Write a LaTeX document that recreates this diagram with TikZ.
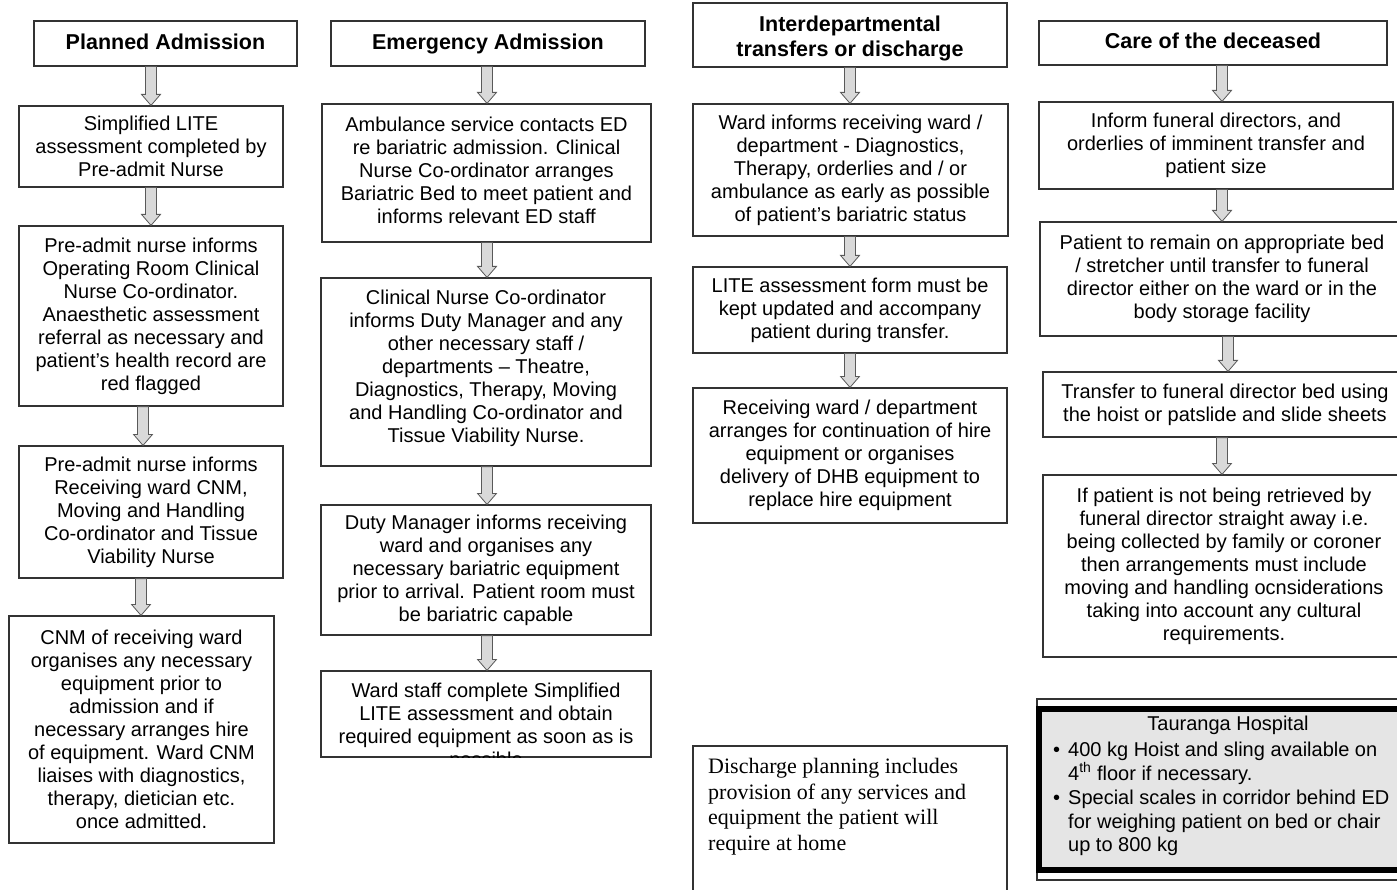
\documentclass[tikz,border=0pt]{standalone}
\usepackage{fontspec}
\setmainfont{Liberation Sans}
\newfontfamily\dserif{Liberation Serif}
\usetikzlibrary{calc}
\definecolor{arrowfill}{gray}{0.85}
\definecolor{arrowdraw}{gray}{0.35}
\definecolor{boxline}{gray}{0.2}
\definecolor{panelfill}{gray}{0.9}
\newcommand\bodyfont{\fontsize{20}{23}\selectfont}
\newcommand\headfont{\fontsize{21.5}{25}\selectfont\bfseries}
\newcommand\dischfont{\dserif\fontsize{22}{25.7}\selectfont}
\tikzset{
  flowbox/.style={draw=boxline, line width=1.2pt, fill=white, align=center, inner sep=0pt, font=\bodyfont},
  headbox/.style={flowbox, font=\headfont},
  fatarrowstyle/.style={fill=arrowfill, draw=arrowdraw, line width=0.8pt, line join=miter},
}
\newcommand\fatarrow[3]{%
  \path[fatarrowstyle] let \p1=(#2.south), \p2=(#3.north) in
   (#1pt-5.5pt,\y1) -- (#1pt-5.5pt,\y2+11pt) -- (#1pt-9.5pt,\y2+11pt) -- (#1pt,\y2)
   -- (#1pt+9.5pt,\y2+11pt) -- (#1pt+5.5pt,\y2+11pt) -- (#1pt+5.5pt,\y1) -- cycle;}
\begin{document}
\begin{tikzpicture}[x=1pt,y=-1pt]
\useasboundingbox[fill=white] (0,0) rectangle (1397,890);

% ---------- Column 1 ----------
\node[headbox, minimum width=263pt, minimum height=45pt] (pa) at (165.5,43.5) {Planned Admission\vphantom{gy}};
\node[flowbox, minimum width=264pt, minimum height=81pt] (c1a) at (151,146.5) {Simplified LITE\\assessment completed by\\Pre-admit Nurse};
\node[flowbox, minimum width=264pt, minimum height=180pt] (c1b) at (151,316) {Pre-admit nurse informs\\Operating Room Clinical\\Nurse Co-ordinator.\\Anaesthetic assessment\\referral as necessary and\\patient’s health record are\\red flagged};
\node[flowbox, minimum width=264pt, minimum height=132pt] (c1c) at (151,512) {Pre-admit nurse informs\\Receiving ward CNM,\\Moving and Handling\\Co-ordinator and Tissue\\Viability Nurse};
\node[flowbox, minimum width=265pt, minimum height=227pt] (c1d) at (141.5,729.5) {CNM of receiving ward\\organises any necessary\\equipment prior to\\admission and if\\necessary arranges hire\\of equipment. Ward CNM\\liaises with diagnostics,\\therapy, dietician etc.\\once admitted.};
\fatarrow{151}{pa}{c1a}
\fatarrow{151}{c1a}{c1b}
\fatarrow{143}{c1b}{c1c}
\fatarrow{141}{c1c}{c1d}

% ---------- Column 2 ----------
\node[headbox, minimum width=314pt, minimum height=45pt] (ea) at (488,43.5) {Emergency Admission};
\node[flowbox, minimum width=329pt, minimum height=138pt] (c2a) at (486.5,173) {};
\node[font=\bodyfont, align=center, inner sep=0pt] (c2atext) at (486.5,170) {Ambulance service contacts ED\\re bariatric admission. Clinical\\Nurse Co-ordinator arranges\\Bariatric Bed to meet patient and\\informs relevant ED staff};
\node[flowbox, minimum width=330pt, minimum height=188pt] (c2b) at (486,372) {};
\node[font=\bodyfont, align=center, inner sep=0pt] (c2btext) at (486,368) {Clinical Nurse Co-ordinator\\informs Duty Manager and any\\other necessary staff /\\departments – Theatre,\\Diagnostics, Therapy, Moving\\and Handling Co-ordinator and\\Tissue Viability Nurse.};
\node[flowbox, minimum width=330pt, minimum height=130pt] (c2c) at (486,570) {Duty Manager informs receiving\\ward and organises any\\necessary bariatric equipment\\prior to arrival. Patient room must\\be bariatric capable};
\node[flowbox, minimum width=330pt, minimum height=86pt] (c2d) at (486,714) {};
\begin{scope}
  \clip (c2d.south west) rectangle (c2d.north east);
  \node[anchor=north, align=center, inner sep=0pt, font=\bodyfont] (c2dtext) at (486,683) {Ward staff complete Simplified\\LITE assessment and obtain\\required equipment as soon as is\\possible};
\end{scope}
\fatarrow{487}{ea}{c2a}
\fatarrow{487}{c2a}{c2b}
\fatarrow{487}{c2b}{c2c}
\fatarrow{487}{c2c}{c2d}

% ---------- Column 3 ----------
\node[headbox, minimum width=314pt, minimum height=64pt] (ia) at (850,35) {};
\node[font=\headfont, align=center, inner sep=0pt] (iatext) at (850,38.5) {Interdepartmental\\transfers or discharge};
\node[flowbox, minimum width=315pt, minimum height=132pt] (c3a) at (850.5,170) {Ward informs receiving ward /\\department - Diagnostics,\\Therapy, orderlies and / or\\ambulance as early as possible\\of patient’s bariatric status};
\node[flowbox, minimum width=314pt, minimum height=86pt] (c3b) at (850,310) {LITE assessment form must be\\kept updated and accompany\\patient during transfer.};
\node[flowbox, minimum width=314pt, minimum height=135pt] (c3c) at (850,455.5) {Receiving ward / department\\arranges for continuation of hire\\equipment or organises\\delivery of DHB equipment to\\replace hire equipment};
\fatarrow{850}{ia}{c3a}
\fatarrow{850}{c3a}{c3b}
\fatarrow{850}{c3b}{c3c}
\node[flowbox, minimum width=314pt, minimum height=160pt] (dis) at (850,826) {};
\node[anchor=north west, align=left, inner sep=0pt, font=\dischfont] (distext) at (708,758) {Discharge planning includes\\provision of any services and\\equipment the patient will\\require at home};

% ---------- Column 4 ----------
\node[headbox, minimum width=348pt, minimum height=44pt] (da) at (1213,43) {Care of the deceased\vphantom{gy}};
\node[flowbox, minimum width=354pt, minimum height=87pt] (c4a) at (1216,145.5) {Inform funeral directors, and\\orderlies of imminent transfer and\\patient size};
\node[flowbox, minimum width=364pt, minimum height=114pt] (c4b) at (1222,279) {Patient to remain on appropriate bed\\/ stretcher until transfer to funeral\\director either on the ward or in the\\body storage facility};
\node[flowbox, minimum width=364pt, minimum height=65pt] (c4c) at (1225,404.5) {Transfer to funeral director bed using\\the hoist or patslide and slide sheets};
\node[flowbox, minimum width=362pt, minimum height=182pt] (c4d) at (1224,566) {If patient is not being retrieved by\\funeral director straight away i.e.\\being collected by family or coroner\\then arrangements must include\\moving and handling ocnsiderations\\taking into account any cultural\\requirements.};
\fatarrow{1222}{da}{c4a}
\fatarrow{1222}{c4a}{c4b}
\fatarrow{1228}{c4b}{c4c}
\fatarrow{1222}{c4c}{c4d}

% ---------- Tauranga Hospital panel ----------
\node[draw=boxline, line width=1.2pt, minimum width=400pt, minimum height=181pt, inner sep=0pt] (tgout) at (1237,789.5) {};
\node[draw=black, fill=panelfill, line width=6pt, minimum width=398pt, minimum height=161pt, inner sep=0pt] (tgin) at (1238,789.5) {};
\node[font=\bodyfont, inner sep=0pt] (tghead) at (1228,725.5) {Tauranga Hospital};
\node[anchor=north west, align=left, inner sep=0pt, font=\fontsize{20}{23.8}\selectfont] (tgbul) at (1053,742) {\makebox[15pt][l]{\textbullet}400 kg Hoist and sling available on\\\hspace*{15pt}4\textsuperscript{th} floor if necessary.\\\makebox[15pt][l]{\textbullet}Special scales in corridor behind ED\\\hspace*{15pt}for weighing patient on bed or chair\\\hspace*{15pt}up to 800 kg};
\end{tikzpicture}
\end{document}
